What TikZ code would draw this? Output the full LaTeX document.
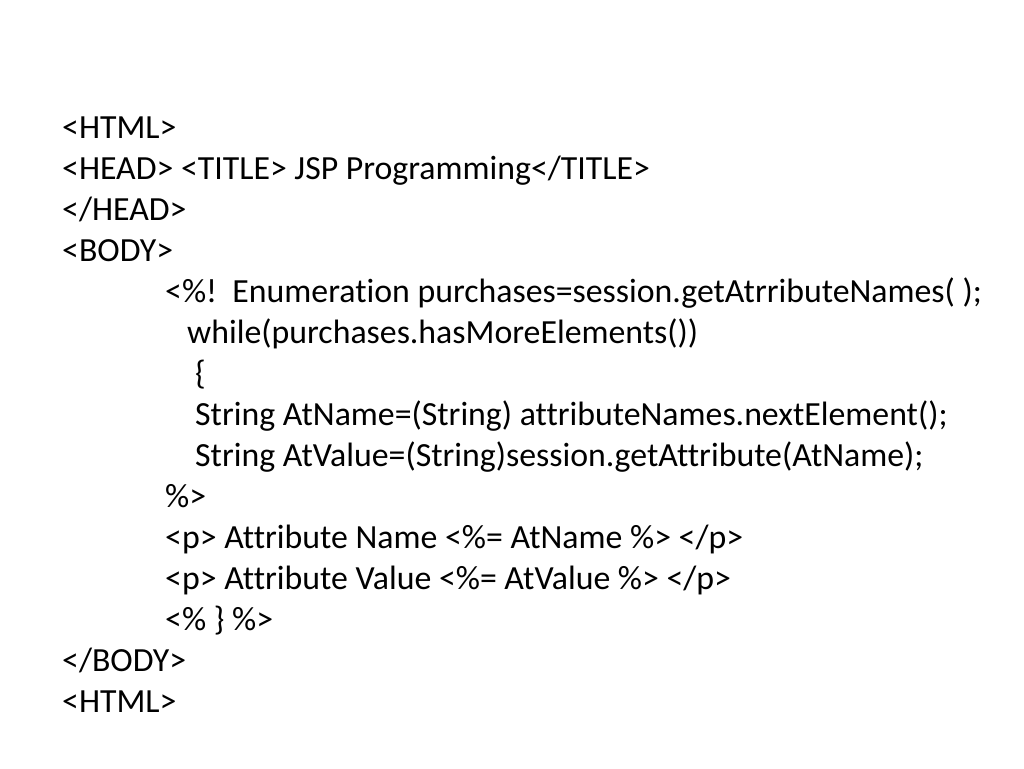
\documentclass[tikz,border=0pt]{standalone}
\usepackage{fontspec}
\setmainfont[Ligatures=NoCommon]{Carlito}
\begin{document}
\begin{tikzpicture}[x=1pt,y=1pt,
  ln/.style={anchor=base west,inner sep=0pt,font=\fontsize{33.8}{38}\selectfont}]
\useasboundingbox (0,0) rectangle (1024,-768);
\node[ln] (l1) at (62,-138) {<HTML>};
\node[ln] (l2) at (62,-179) {<HEAD> <TITLE> JSP Programming</TITLE>};
\node[ln] (l3) at (62,-220) {</HEAD>};
\node[ln] (l4) at (62,-261) {<BODY>};
\node[ln] (l5) at (165,-302) {<\%!\ \ Enumeration purchases=session.getAtrributeNames( );};
\node[ln] (l6) at (187,-343) {while(purchases.hasMoreElements())};
\node[ln] (l7) at (195,-384) {\{};
\node[ln] (l8) at (195,-425) {String AtName=(String) attributeNames.nextElement();};
\node[ln] (l9) at (195,-466) {String AtValue=(String)session.getAttribute(AtName);};
\node[ln] (l10) at (165,-507) {\%>};
\node[ln] (l11) at (165,-548) {<p> Attribute Name <\%= AtName \%> </p>};
\node[ln] (l12) at (165,-589) {<p> Attribute Value <\%= AtValue \%> </p>};
\node[ln] (l13) at (165,-630) {<\% \} \%>};
\node[ln] (l14) at (62,-671) {</BODY>};
\node[ln] (l15) at (62,-712) {<HTML>};
\end{tikzpicture}
\end{document}
